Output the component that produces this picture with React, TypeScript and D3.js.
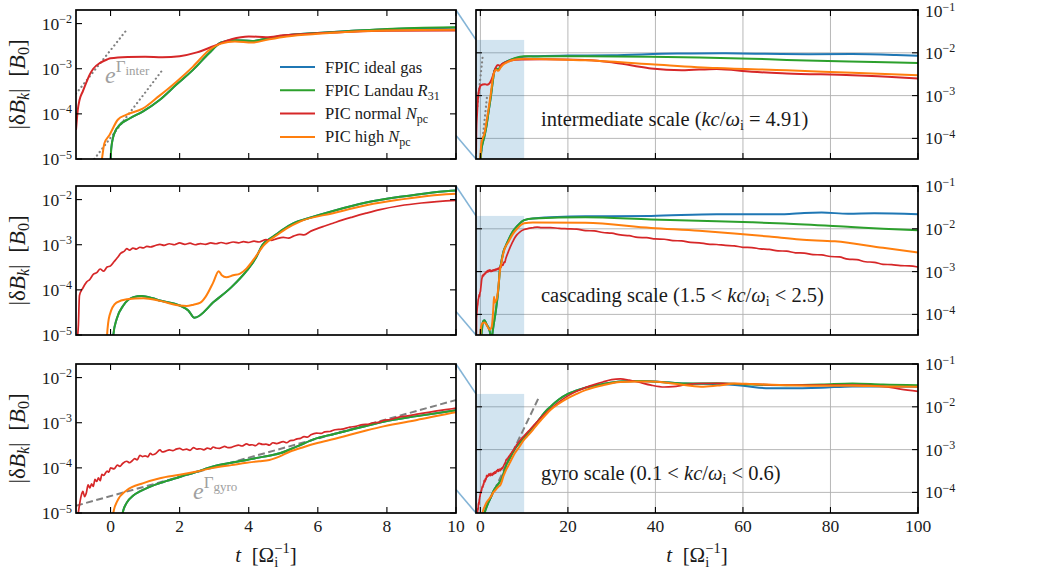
import React from 'react';
import * as d3 from 'd3';

type P = [number, number];

// ---------- intermediate scale (kc/ωi = 4.91) ----------
const interBlue: P[] = [
  [0.0, 8e-6], [0.02, 1.7e-5], [0.11, 3.7e-5], [0.26, 5.6e-5], [0.55, 7.9e-5], [0.93, 1.12e-4],
  [1.41, 2.0e-4], [1.9, 4.4e-4], [2.38, 9.3e-4], [2.85, 2.2e-3], [3.2, 3.8e-3], [3.6, 4.3e-3],
  [4.1, 4.1e-3], [4.6, 4.8e-3], [5.1, 5.5e-3], [6.1, 6.3e-3], [7, 6.9e-3], [8, 7.5e-3], [10, 8.1e-3],
  [12, 8.3e-3], [20, 8.6e-3], [30, 8.8e-3], [45, 9.6e-3], [55, 9.7e-3], [65, 9.5e-3], [75, 9.3e-3],
  [85, 9.4e-3], [95, 8.9e-3], [100, 8.5e-3],
];
const interGreen: P[] = [
  [0.0, 8e-6], [0.02, 1.7e-5], [0.11, 3.7e-5], [0.26, 5.6e-5], [0.55, 7.9e-5], [0.93, 1.12e-4],
  [1.41, 2.0e-4], [1.9, 4.4e-4], [2.38, 9.3e-4], [2.85, 2.2e-3], [3.2, 3.8e-3], [3.6, 4.3e-3],
  [4.1, 4.1e-3], [4.6, 4.8e-3], [5.1, 5.5e-3], [6.1, 6.3e-3], [7, 6.9e-3], [8, 7.6e-3], [10, 8.3e-3],
  [12, 8.2e-3], [24, 8.3e-3], [39, 8.1e-3], [50, 7.8e-3], [62, 7.3e-3], [70, 6.8e-3], [77, 6.5e-3],
  [90, 6.1e-3], [100, 5.8e-3],
];
const interRed: P[] = [
  [-1, 4.4e-5], [-0.95, 1.2e-4], [-0.9, 2e-4], [-0.8, 3.2e-4], [-0.7, 5e-4], [-0.6, 7.5e-4],
  [-0.5, 1e-3], [-0.3, 1.35e-3], [-0.1, 1.6e-3], [0, 1.7e-3], [0.5, 1.82e-3], [1, 1.85e-3],
  [1.5, 1.8e-3], [2, 1.9e-3], [2.5, 2.3e-3], [3, 3.2e-3], [3.5, 4.5e-3], [4, 5.2e-3], [4.5, 5.0e-3],
  [5, 5.5e-3], [6, 6.1e-3], [7, 6.6e-3], [8, 6.9e-3], [10, 7.0e-3], [15, 7.1e-3], [24, 6.8e-3],
  [30, 6.0e-3], [35, 5.0e-3], [39, 4.3e-3], [46, 3.9e-3], [54, 4.2e-3], [62, 3.6e-3], [70, 3.3e-3],
  [85, 3.0e-3], [95, 2.7e-3], [100, 2.5e-3],
];
const interOrange: P[] = [
  [-0.3, 6e-6], [-0.25, 1e-5], [-0.18, 2.2e-5], [-0.03, 3.4e-5], [0.21, 7.4e-5], [0.45, 9.5e-5],
  [0.93, 1.3e-4], [1.41, 2.5e-4], [1.9, 5.1e-4], [2.38, 1.1e-3], [2.86, 2.6e-3], [3.2, 3.6e-3],
  [3.6, 4.0e-3], [4.1, 3.8e-3], [4.6, 4.5e-3], [5.1, 5.2e-3], [6.1, 6.0e-3], [7, 6.6e-3], [8, 7.0e-3],
  [10, 7.3e-3], [15, 7.1e-3], [24, 6.7e-3], [39, 5.4e-3], [54, 4.4e-3], [70, 3.9e-3], [85, 3.4e-3],
  [100, 3.0e-3],
];
const interGuideA: P[] = [[-1, 2.8e-4], [0.5, 7.8e-3]];
const interGuideB: P[] = [[-0.47, 1e-5], [1.5, 9.3e-4]];

// ---------- cascading scale (1.5 < kc/ωi < 2.5) ----------
const cascBlue: P[] = [
  [0.05, 5e-6], [0.08, 1e-5], [0.18, 2.3e-5], [0.37, 4.5e-5], [0.66, 6.9e-5], [0.9, 7.3e-5],
  [1.2, 6.6e-5], [1.43, 5.8e-5], [2.0, 4.5e-5], [2.25, 3.5e-5], [2.43, 2.4e-5], [3.0, 5.5e-5],
  [3.5, 1.15e-4], [3.95, 2.7e-4], [4.2, 5e-4], [4.4, 1e-3], [4.7, 1.5e-3], [5.0, 2.2e-3],
  [5.3, 3.0e-3], [5.7, 3.8e-3], [6.44, 5.6e-3], [7.4, 8.6e-3], [8.38, 1.15e-2], [10, 1.6e-2],
  [12, 1.75e-2], [24, 1.96e-2], [39, 2.0e-2], [54, 2.2e-2], [62, 2.2e-2], [69.5, 2.2e-2],
  [74, 2.35e-2], [78, 2.4e-2], [84, 2.25e-2], [90, 2.3e-2], [100, 2.2e-2],
];
const cascGreen: P[] = [
  [0.05, 5e-6], [0.08, 1e-5], [0.18, 2.3e-5], [0.37, 4.5e-5], [0.66, 6.9e-5], [0.9, 7.3e-5],
  [1.2, 6.6e-5], [1.43, 5.8e-5], [2.0, 4.5e-5], [2.25, 3.5e-5], [2.43, 2.4e-5], [3.0, 5.5e-5],
  [3.5, 1.15e-4], [3.95, 2.7e-4], [4.2, 5e-4], [4.4, 1e-3], [4.7, 1.5e-3], [5.0, 2.2e-3],
  [5.3, 3.0e-3], [5.7, 3.8e-3], [6.44, 5.6e-3], [7.4, 8.6e-3], [8.38, 1.15e-2], [10, 1.6e-2],
  [12, 1.75e-2], [24, 1.86e-2], [39, 1.65e-2], [54, 1.5e-2], [62, 1.42e-2], [69.5, 1.33e-2],
  [84.7, 1.1e-2], [92, 1.0e-2], [100, 9.3e-3],
];
const cascRed: P[] = [
  [-0.95, 1e-5], [-0.93, 1.7e-5], [-0.9, 7.5e-5], [-0.8, 1.1e-4], [-0.69, 1.5e-4], [-0.6, 1.7e-4],
  [-0.5, 2.2e-4], [-0.4, 2.4e-4], [-0.3, 2.9e-4], [-0.2, 2.6e-4], [-0.1, 3.2e-4], [0, 3.4e-4],
  [0.1, 4.2e-4], [0.2, 5.2e-4], [0.3, 6.5e-4], [0.4, 7.2e-4], [0.47, 8.2e-4], [0.55, 7.6e-4],
  [0.65, 8.4e-4], [0.75, 8.0e-4], [0.85, 8.8e-4], [0.95, 8.5e-4], [1.05, 9.2e-4], [1.15, 8.9e-4],
  [1.3, 9.6e-4], [1.43, 1.02e-3], [1.55, 9.7e-4], [1.7, 1.05e-3], [1.85, 1.0e-3], [2.0, 1.1e-3],
  [2.15, 1.02e-3], [2.3, 1.08e-3], [2.45, 1.0e-3], [2.6, 1.06e-3], [2.75, 1.02e-3], [2.9, 1.1e-3],
  [3.05, 1.05e-3], [3.2, 1.12e-3], [3.35, 1.06e-3], [3.55, 1.15e-3], [3.7, 1.1e-3], [3.85, 1.17e-3],
  [4.0, 1.12e-3], [4.15, 1.2e-3], [4.3, 1.15e-3], [4.5, 1.3e-3], [4.65, 1.25e-3], [4.8, 1.35e-3],
  [5.0, 1.45e-3], [5.15, 1.4e-3], [5.3, 1.55e-3], [5.48, 1.7e-3], [5.6, 1.65e-3], [5.8, 2.0e-3],
  [6.0, 2.3e-3], [6.2, 2.6e-3], [6.44, 3.0e-3], [6.7, 3.5e-3], [7.0, 4.1e-3], [7.4, 5.0e-3],
  [7.8, 6.0e-3], [8.38, 7.3e-3], [9, 8.4e-3], [10, 9.6e-3], [11, 1.02e-2], [12, 1.06e-2],
  [13, 1.1e-2], [14, 1.06e-2], [16, 1.07e-2], [18, 1.02e-2], [20, 1.0e-2], [22, 9.8e-3],
  [24, 9.1e-3], [26, 8.9e-3], [28, 8.2e-3], [30, 7.9e-3], [32, 7.2e-3], [34, 6.9e-3], [36, 6.3e-3],
  [38, 6.2e-3], [40, 5.8e-3], [42, 5.7e-3], [44, 5.3e-3], [46, 5.2e-3], [48, 4.8e-3], [50, 4.7e-3],
  [52, 4.4e-3], [54, 4.3e-3], [56, 4.1e-3], [58, 4.0e-3], [60, 3.7e-3], [62, 3.65e-3], [64, 3.4e-3],
  [66, 3.3e-3], [68, 3.05e-3], [70, 3.0e-3], [72, 2.75e-3], [74, 2.7e-3], [76, 2.5e-3], [78, 2.45e-3],
  [80, 2.25e-3], [82, 2.2e-3], [84, 1.95e-3], [86, 1.9e-3], [88, 1.7e-3], [90, 1.65e-3],
  [92, 1.48e-3], [94, 1.45e-3], [96, 1.38e-3], [98, 1.36e-3], [100, 1.28e-3],
];
const cascOrange: P[] = [
  [-0.12, 5e-6], [-0.1, 1e-5], [-0.03, 2.7e-5], [0.17, 5.2e-5], [0.47, 6.2e-5], [0.95, 6.5e-5],
  [1.43, 5.7e-5], [2.0, 4.5e-5], [2.2, 4.4e-5], [2.4, 4.7e-5], [2.6, 5.2e-5], [2.75, 7e-5],
  [2.97, 1.45e-4], [3.13, 2.6e-4], [3.22, 2.1e-4], [3.35, 1.9e-4], [3.55, 2.1e-4], [3.75, 2.3e-4],
  [3.94, 3.0e-4], [4.15, 4.8e-4], [4.45, 1.0e-3], [4.8, 1.6e-3], [5.1, 2.3e-3], [5.5, 3.3e-3],
  [6.44, 5.0e-3], [7.4, 7.5e-3], [8.38, 1.0e-2], [10, 1.35e-2], [12, 1.4e-2], [24, 1.38e-2],
  [39, 1.05e-2], [50, 9.0e-3], [58, 7.8e-3], [66, 6.6e-3], [73, 5.6e-3], [81, 5.1e-3],
  [92, 3.6e-3], [100, 2.8e-3],
];

// ---------- gyro scale (0.1 < kc/ωi < 0.6) ----------
const gyroBlue: P[] = [
  [0.3, 6e-6], [0.35, 1e-5], [0.47, 1.7e-5], [0.65, 2.4e-5], [0.85, 3.0e-5], [1.1, 3.7e-5],
  [1.43, 4.6e-5], [2.0, 6.3e-5], [2.5, 8.2e-5], [2.97, 1.07e-4], [3.5, 1.3e-4], [3.94, 1.5e-4],
  [4.4, 1.75e-4], [4.9, 2.1e-4], [5.4, 3.0e-4], [5.96, 4.5e-4], [6.5, 5.7e-4], [6.93, 6.9e-4],
  [7.4, 8.5e-4], [7.9, 1.05e-3], [8.87, 1.4e-3], [10, 1.9e-3], [11, 2.5e-3], [12, 3.3e-3],
  [13, 4.4e-3], [14, 6.0e-3], [15, 8.0e-3], [16, 1.0e-2], [18, 1.5e-2], [20, 2.0e-2], [22, 2.4e-2],
  [24, 2.8e-2], [28, 3.4e-2], [32, 3.9e-2], [36, 4.0e-2], [40, 3.9e-2], [47, 3.5e-2], [54, 3.4e-2],
  [60, 3.1e-2], [66, 2.7e-2], [70, 2.7e-2], [78, 2.8e-2], [85, 3.0e-2], [92, 3.0e-2], [100, 2.95e-2],
];
const gyroGreen: P[] = [
  [0.3, 6e-6], [0.35, 1e-5], [0.47, 1.7e-5], [0.65, 2.4e-5], [0.85, 3.0e-5], [1.1, 3.7e-5],
  [1.43, 4.6e-5], [2.0, 6.3e-5], [2.5, 8.2e-5], [2.97, 1.07e-4], [3.5, 1.3e-4], [3.94, 1.5e-4],
  [4.4, 1.75e-4], [4.9, 2.1e-4], [5.4, 3.0e-4], [5.96, 4.5e-4], [6.5, 5.7e-4], [6.93, 6.9e-4],
  [7.4, 8.5e-4], [7.9, 1.05e-3], [8.87, 1.4e-3], [10, 1.9e-3], [11, 2.5e-3], [12, 3.3e-3],
  [13, 4.4e-3], [14, 6.0e-3], [15, 8.0e-3], [16, 1.0e-2], [18, 1.5e-2], [20, 2.0e-2], [22, 2.4e-2],
  [24, 2.8e-2], [28, 3.4e-2], [32, 3.9e-2], [36, 4.0e-2], [39, 3.9e-2], [43, 3.7e-2], [47, 3.5e-2],
  [54, 3.55e-2], [62, 3.3e-2], [70, 3.2e-2], [78, 3.3e-2], [85, 3.5e-2], [92, 3.3e-2], [100, 3.2e-2],
];
const gyroRed: P[] = [
  [-0.95, 8e-6], [-0.9, 1.5e-5], [-0.85, 2.4e-5], [-0.8, 3e-5], [-0.75, 2.3e-5], [-0.7, 2.8e-5],
  [-0.65, 4.2e-5], [-0.6, 3.6e-5], [-0.55, 4.4e-5], [-0.5, 3.9e-5], [-0.45, 5.6e-5], [-0.4, 5.0e-5],
  [-0.35, 6.0e-5], [-0.3, 5.2e-5], [-0.25, 7.2e-5], [-0.2, 6.8e-5], [-0.1, 8.5e-5], [-0.05, 8.0e-5],
  [0, 1.0e-4], [0.1, 9.5e-5], [0.2, 1.15e-4], [0.27, 1.08e-4], [0.35, 1.25e-4], [0.47, 1.4e-4],
  [0.55, 1.3e-4], [0.62, 1.42e-4], [0.7, 1.6e-4], [0.77, 1.5e-4], [0.85, 1.9e-4], [0.92, 1.78e-4],
  [1.0, 1.85e-4], [1.08, 1.75e-4], [1.15, 2.1e-4], [1.22, 1.95e-4], [1.3, 2.05e-4], [1.43, 2.5e-4],
  [1.5, 2.25e-4], [1.6, 2.35e-4], [1.7, 2.5e-4], [1.8, 2.4e-4], [1.9, 2.6e-4], [2.0, 2.7e-4],
  [2.1, 2.5e-4], [2.2, 2.6e-4], [2.3, 2.45e-4], [2.4, 2.8e-4], [2.5, 2.6e-4], [2.6, 2.65e-4],
  [2.7, 2.5e-4], [2.8, 2.75e-4], [2.9, 2.6e-4], [2.97, 2.9e-4], [3.05, 2.75e-4], [3.15, 2.7e-4],
  [3.25, 2.9e-4], [3.3, 3.0e-4], [3.4, 2.8e-4], [3.5, 2.85e-4], [3.6, 3.05e-4], [3.7, 3.2e-4],
  [3.8, 3.05e-4], [3.94, 3.4e-4], [4.02, 3.2e-4], [4.1, 3.25e-4], [4.2, 3.1e-4], [4.3, 3.5e-4],
  [4.4, 3.3e-4], [4.5, 3.35e-4], [4.6, 3.2e-4], [4.7, 3.6e-4], [4.8, 3.45e-4], [5.0, 3.8e-4],
  [5.1, 3.6e-4], [5.2, 4.0e-4], [5.3, 4.1e-4], [5.4, 4.4e-4], [5.5, 4.5e-4], [5.6, 4.9e-4],
  [5.7, 4.8e-4], [5.8, 5.4e-4], [5.96, 5.9e-4], [6.1, 5.8e-4], [6.2, 6.3e-4], [6.35, 6.4e-4],
  [6.5, 7.0e-4], [6.7, 7.2e-4], [6.93, 8.0e-4], [7.1, 8.3e-4], [7.3, 9.1e-4], [7.45, 9.2e-4],
  [7.6, 1.0e-3], [7.75, 1.02e-3], [7.9, 1.12e-3], [8.1, 1.18e-3], [8.3, 1.3e-3], [8.6, 1.42e-3],
  [8.87, 1.55e-3], [9.1, 1.65e-3], [9.4, 1.8e-3], [9.7, 1.95e-3], [10, 2.1e-3], [11, 2.7e-3],
  [12, 3.5e-3], [13, 4.5e-3], [14, 5.8e-3], [15, 7.2e-3], [16, 8.8e-3], [18, 1.3e-2], [20, 1.8e-2],
  [22, 2.3e-2], [24, 2.8e-2], [26, 3.3e-2], [28, 3.8e-2], [30, 4.3e-2], [32, 4.5e-2], [34, 4.2e-2],
  [36, 3.8e-2], [39, 3.2e-2], [42, 2.9e-2], [44, 2.95e-2], [47, 3.3e-2], [50, 3.5e-2], [55, 3.55e-2],
  [62, 3.4e-2], [70, 3.2e-2], [78, 3.2e-2], [85, 3.2e-2], [92, 3.0e-2], [96, 2.6e-2], [100, 2.3e-2],
];
const gyroOrange: P[] = [
  [0.05, 6e-6], [0.08, 1e-5], [0.19, 1.8e-5], [0.47, 3.2e-5], [0.95, 4.6e-5], [1.43, 5.9e-5],
  [2.0, 7.0e-5], [2.5, 8.3e-5], [2.97, 1.0e-4], [3.5, 1.15e-4], [3.94, 1.3e-4], [4.3, 1.4e-4],
  [4.6, 1.5e-4], [4.9, 1.8e-4], [5.2, 2.3e-4], [5.6, 2.9e-4], [5.96, 3.5e-4], [6.5, 4.4e-4],
  [6.93, 5.4e-4], [7.4, 6.7e-4], [7.9, 8.3e-4], [8.87, 1.15e-3], [10, 1.7e-3], [11, 2.2e-3],
  [12, 2.9e-3], [13, 3.9e-3], [14, 5.1e-3], [15, 6.6e-3], [16, 8.4e-3], [18, 1.2e-2], [20, 1.6e-2],
  [22, 2.0e-2], [24, 2.45e-2], [28, 3.2e-2], [32, 3.8e-2], [36, 3.9e-2], [39, 3.9e-2], [43, 3.6e-2],
  [47, 3.2e-2], [51, 2.95e-2], [55, 3.2e-2], [58, 3.5e-2], [62, 3.4e-2], [70, 3.2e-2], [78, 3.1e-2],
  [85, 3.1e-2], [92, 3.0e-2], [100, 2.95e-2],
];
const gyroGuide: P[] = [[-1, 1.45e-5], [13.2, 1.53e-2]];

// ---------- axes ----------
const leftXDomain = [-1, 10];
const rightXDomain = [-1, 100];
const leftYDomain = [1e-5, 2e-2];
const rightYDomain = [3.3e-5, 1e-1];
const leftXTicks = [0, 2, 4, 6, 8, 10];
const rightXTicks = [0, 20, 40, 60, 80, 100];
const leftYTicks = [1e-2, 1e-3, 1e-4, 1e-5];
const rightYTicks = [1e-1, 1e-2, 1e-3, 1e-4];
const zoomWindow = { t0: -1, t1: 10, top: 2e-2 };

const seriesNames = ['FPIC ideal gas', 'FPIC Landau ', 'PIC normal ', 'PIC high '];
const seriesSym = [null, ['R', '31'], ['N', 'pc'], ['N', 'pc']];
const seriesColors = ['#1f77b4', '#2ca02c', '#d62728', '#ff7f0e'];

const rows = [
  { series: [interBlue, interGreen, interRed, interOrange], guides: [interGuideA, interGuideB], dotted: true, scale: 'intermediate scale (', kc: ' = 4.91)', guideName: 'inter', gx: 105, gy: 83 },
  { series: [cascBlue, cascGreen, cascRed, cascOrange], guides: [], dotted: false, scale: 'cascading scale (1.5 < ', kc: ' < 2.5)', guideName: '', gx: 0, gy: 0 },
  { series: [gyroBlue, gyroGreen, gyroRed, gyroOrange], guides: [gyroGuide], dotted: false, scale: 'gyro scale (0.1 < ', kc: ' < 0.6)', guideName: 'gyro', gx: 193, gy: 499 },
];

const W = 1048, H = 573;
const LX0 = 76, LX1 = 456, RX0 = 476, RX1 = 918;
const ROW_TOPS = [10, 186, 364];
const ROW_H = 149;
const FONT = "'Liberation Serif', 'Times New Roman', 'DejaVu Serif', serif";
const TICK = 6;
const INK = '#1a1a1a';

function Pow({ x, y, v, anchor }: any) {
  const e = Math.round(Math.log10(v));
  return (
    <text x={x} y={y} textAnchor={anchor} fontSize={17.5} fill={INK}>
      10<tspan dy={-6.5} fontSize={12}>{'\u2212' + Math.abs(e)}</tspan>
    </text>
  );
}

function Row({ row, i }: any) {
  const top = ROW_TOPS[i];
  const bottom = top + ROW_H;
  const lx = d3.scaleLinear().domain(leftXDomain).range([LX0, LX1]);
  const rx = d3.scaleLinear().domain(rightXDomain).range([RX0, RX1]);
  const ly = d3.scaleLog().domain(leftYDomain).range([bottom, top]);
  const ry = d3.scaleLog().domain(rightYDomain).range([bottom, top]);
  const lLine = d3.line<P>().x(d => lx(d[0])).y(d => ly(d[1])).curve(d3.curveMonotoneX);
  const rLine = d3.line<P>().x(d => rx(d[0])).y(d => ry(d[1])).curve(d3.curveMonotoneX);
  const isLast = i === rows.length - 1;
  const clipL = `clipL${i}`, clipR = `clipR${i}`;

  const guideEls = (gen: any) =>
    row.guides.map((g: P[], k: number) => (
      <path key={'g' + k} d={gen(g) || ''} fill="none" stroke="#808080"
        strokeWidth={row.dotted ? 2.2 : 2}
        strokeDasharray={row.dotted ? '0.1,4.3' : '7,3.5'}
        strokeLinecap={row.dotted ? 'round' : 'butt'} />
    ));
  const seriesEls = (gen: any) =>
    row.series.map((s: P[], k: number) => (
      <path key={'s' + k} d={gen(s) || ''} fill="none" stroke={seriesColors[k]}
        strokeWidth={k === 2 && i > 0 ? 1.7 : 2} strokeLinejoin="round" />
    ));

  return (
    <g>
      <defs>
        <clipPath id={clipL}><rect x={LX0} y={top} width={LX1 - LX0} height={ROW_H} /></clipPath>
        <clipPath id={clipR}><rect x={RX0} y={top} width={RX1 - RX0} height={ROW_H} /></clipPath>
      </defs>

      <g>
        {rightXTicks.map(t => (
          <line key={'gx' + t} x1={rx(t)} x2={rx(t)} y1={top} y2={bottom} stroke="#b0b0b0" strokeWidth={0.9} />
        ))}
        {rightYTicks.map(v => (
          <line key={'gy' + v} x1={RX0} x2={RX1} y1={ry(v)} y2={ry(v)} stroke="#b0b0b0" strokeWidth={0.9} />
        ))}
        <rect x={rx(zoomWindow.t0)} y={ry(zoomWindow.top)} width={rx(zoomWindow.t1) - rx(zoomWindow.t0)}
          height={bottom - ry(zoomWindow.top)} fill="#1f77b4" fillOpacity={0.2} />
      </g>

      <g clipPath={`url(#${clipL})`}>
        {guideEls(lLine)}
        {seriesEls(lLine)}
      </g>
      <g clipPath={`url(#${clipR})`}>
        {guideEls(rLine)}
        {seriesEls(rLine)}
      </g>

      <line x1={lx(zoomWindow.t1)} y1={ly(zoomWindow.top)} x2={rx(zoomWindow.t0)} y2={ry(zoomWindow.top)}
        stroke="#1f77b4" strokeOpacity={0.55} strokeWidth={1.6} />
      <line x1={lx(zoomWindow.t1)} y1={ly(rightYDomain[0])} x2={rx(zoomWindow.t0)} y2={ry(rightYDomain[0])}
        stroke="#1f77b4" strokeOpacity={0.55} strokeWidth={1.6} />

      <rect x={LX0} y={top} width={LX1 - LX0} height={ROW_H} fill="none" stroke="#000" strokeWidth={1.7} />
      <rect x={RX0} y={top} width={RX1 - RX0} height={ROW_H} fill="none" stroke="#000" strokeWidth={1.7} />

      {leftYTicks.map(v => (
        <g key={'ly' + v}>
          <line x1={LX0} x2={LX0 + TICK} y1={ly(v)} y2={ly(v)} stroke="#000" strokeWidth={1.1} />
          <line x1={LX1} x2={LX1 - TICK} y1={ly(v)} y2={ly(v)} stroke="#000" strokeWidth={1.1} />
          <Pow x={LX0 - 4} y={ly(v) + 6} v={v} anchor="end" />
        </g>
      ))}
      {leftXTicks.map(t => (
        <g key={'lx' + t}>
          <line x1={lx(t)} x2={lx(t)} y1={top} y2={top + TICK} stroke="#000" strokeWidth={1.1} />
          <line x1={lx(t)} x2={lx(t)} y1={bottom} y2={bottom - TICK} stroke="#000" strokeWidth={1.1} />
          {isLast && <text x={lx(t)} y={bottom + 19} textAnchor="middle" fontSize={17.5} fill={INK}>{t}</text>}
        </g>
      ))}
      {rightYTicks.map(v => (
        <g key={'ry' + v}>
          <line x1={RX0} x2={RX0 + TICK} y1={ry(v)} y2={ry(v)} stroke="#000" strokeWidth={1.1} />
          <line x1={RX1} x2={RX1 - TICK} y1={ry(v)} y2={ry(v)} stroke="#000" strokeWidth={1.1} />
          <Pow x={RX1 + 7} y={Math.max(ry(v) + 6, 17)} v={v} anchor="start" />
        </g>
      ))}
      {rightXTicks.map(t => (
        <g key={'rx' + t}>
          <line x1={rx(t)} x2={rx(t)} y1={top} y2={top + TICK} stroke="#000" strokeWidth={1.1} />
          <line x1={rx(t)} x2={rx(t)} y1={bottom} y2={bottom - TICK} stroke="#000" strokeWidth={1.1} />
          {isLast && <text x={rx(t)} y={bottom + 19} textAnchor="middle" fontSize={17.5} fill={INK}>{t}</text>}
        </g>
      ))}

      <text transform={`translate(25,${(top + bottom) / 2}) rotate(-90)`} textAnchor="middle" fontSize={23} fill={INK}>
        |δ<tspan fontStyle="italic">B</tspan><tspan dy={4} fontSize={16} fontStyle="italic">k</tspan>
        <tspan dy={-4}>|{'\u00a0\u00a0'}[</tspan><tspan fontStyle="italic">B</tspan><tspan dy={4} fontSize={16}>0</tspan><tspan dy={-4}>]</tspan>
      </text>

      <text x={541} y={top + 116} fontSize={20.5} fill={INK}>
        {row.scale}<tspan fontStyle="italic">kc</tspan>/<tspan fontStyle="italic">ω</tspan>
        <tspan dy={4} fontSize={14}>i</tspan><tspan dy={-4}>{row.kc}</tspan>
      </text>

      {row.guideName && (
        <text x={row.gx} y={row.gy} fontSize={24} fill="#a0a0a0">
          <tspan fontStyle="italic">e</tspan><tspan dy={-11} fontSize={17}>Γ</tspan>
          <tspan dy={3} fontSize={13}>{row.guideName}</tspan>
        </text>
      )}
    </g>
  );
}

export default function App() {
  const legTop = 67;
  return (
    <svg width={W} height={H} style={{ position: 'absolute', left: 0, top: 0, background: '#fff' }} fontFamily={FONT}>
      <rect x={0} y={0} width={W} height={H} fill="#fff" />
      {rows.map((row, i) => <Row key={i} row={row} i={i} />)}

      {seriesNames.map((name, k) => {
        const y = legTop + k * 23.3;
        const sym = seriesSym[k];
        return (
          <g key={'leg' + k}>
            <line x1={280} x2={315} y1={y} y2={y} stroke={seriesColors[k]} strokeWidth={2} />
            <text x={325} y={y + 5.5} fontSize={16.5} fill={INK} style={{ whiteSpace: 'pre' }}>
              {name}
              {sym && <tspan fontStyle="italic">{sym[0]}</tspan>}
              {sym && <tspan dy={4} fontSize={12}>{sym[1]}</tspan>}
            </text>
          </g>
        );
      })}

      {[[LX0, LX1], [RX0, RX1]].map(([a, b], k) => (
        <text key={'xl' + k} x={(a + b) / 2} y={562} textAnchor="middle" fontSize={21} fill={INK}>
          <tspan fontStyle="italic">t</tspan>{'\u00a0\u00a0'}[Ω<tspan dy={5} fontSize={14.5}>i</tspan>
          <tspan dx={-4} dy={-14} fontSize={14.5}>{'\u22121'}</tspan><tspan dy={9}>]</tspan>
        </text>
      ))}
    </svg>
  );
}
